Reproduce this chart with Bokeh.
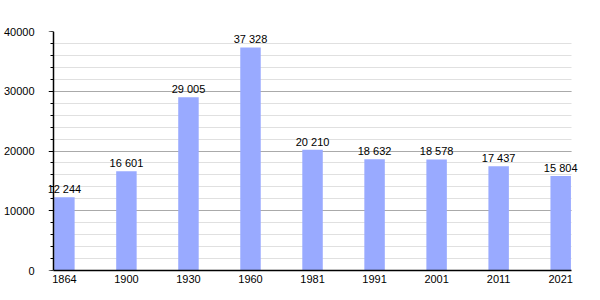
from bokeh.plotting import figure
from bokeh.models import ColumnDataSource, FixedTicker, Range1d, Label, CustomJSTickFormatter, LinearAxis
from bokeh.embed import file_html
from bokeh.resources import INLINE

years = ["1864", "1900", "1930", "1960", "1981", "1991", "2001", "2011", "2021"]
population = [12244, 16601, 29005, 37328, 20210, 18632, 18578, 17437, 15804]
labels = ["12 244", "16 601", "29 005", "37 328", "20 210", "18 632", "18 578", "17 437", "15 804"]
y_ticks = [0, 10000, 20000, 30000, 40000]

idx = list(range(len(years)))
src = ColumnDataSource(dict(x=idx, y=population, lab=labels))

pad = 0.176
x0, x1 = -pad, len(years) - 1 + pad
scale = 521.0 / (x1 - x0)
p = figure(width=600, height=300, output_backend="svg", toolbar_location=None,
           x_range=Range1d(x0 - 5 / scale, x1 + 19 / scale), y_range=Range1d(0, 40000),
           min_border_left=45, min_border_right=10, min_border_top=31, min_border_bottom=30)
p.outline_line_color = None
p.background_fill_color = "white"

p.vbar(x="x", top="y", width=0.33, source=src, color="#99aaff", line_color=None)

for xi, yi, lab in zip(idx, population, labels):
    p.add_layout(Label(x=xi, y=yi, text=lab, text_align="center",
                       text_baseline="bottom", y_offset=2, text_font_size="11px",
                       text_font="Liberation Sans", text_color="black"))

yticker = FixedTicker(ticks=y_ticks, minor_ticks=list(range(0, 40001, 2000)))
p.yaxis.ticker = yticker
p.xaxis.ticker = FixedTicker(ticks=idx)
p.xaxis.formatter = CustomJSTickFormatter(args=dict(names=years), code="return names[tick];")
p.yaxis.fixed_location = x0
p.yaxis.major_label_text_color = None
p.xaxis.bounds = (x0, x1)

# label-only axis in the left panel
ylab = LinearAxis(ticker=yticker, formatter=CustomJSTickFormatter(code="return tick.toFixed(0);"),
                  axis_line_color=None, major_tick_line_color=None, minor_tick_line_color=None,
                  major_label_standoff=8, major_label_text_font="Liberation Sans",
                  major_label_text_font_size="11px", major_label_text_color="black")
p.add_layout(ylab, "left")

for ax in (p.xaxis[0], p.yaxis[0]):
    ax.axis_line_color = "black"
    ax.axis_line_width = 1.5
    ax.major_label_text_font = "Liberation Sans"
    ax.major_label_text_font_size = "11px"
    ax.major_tick_line_color = "black"
    ax.minor_tick_line_color = "black"
p.xaxis.major_label_text_color = "black"

p.yaxis[0].major_tick_out = 5
p.yaxis[0].major_tick_in = 0
p.yaxis[0].minor_tick_out = 3
p.yaxis[0].minor_tick_in = 0
p.xaxis.major_tick_out = 0
p.xaxis.major_tick_in = 0
p.xaxis.minor_tick_line_color = None
p.xaxis.major_label_standoff = 4

p.xgrid.grid_line_color = None
p.ygrid.grid_line_color = "#aaaaaa"
p.ygrid.minor_grid_line_color = "#e0e0e0"
p.ygrid.cross_bounds = (x0, x1)
p.ygrid.level = "underlay"

open("out.html", "w").write(file_html(p, INLINE))
